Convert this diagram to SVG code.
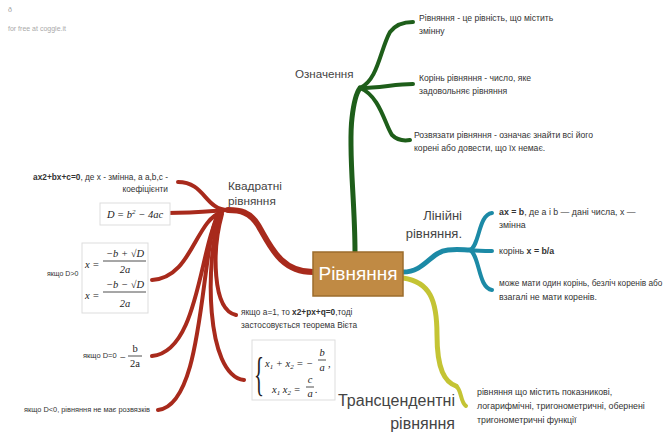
<svg xmlns="http://www.w3.org/2000/svg" width="666" height="444" viewBox="0 0 666 444">
<style>
.t{font-family:"Liberation Sans",Arial,sans-serif;fill:#333;font-size:8.6px}
.tb{font-size:8.8px}
.tr{font-size:8.3px}
.b{font-weight:bold}
.lbl{font-family:"Liberation Sans",Arial,sans-serif;fill:#444}
.m{font-family:"Liberation Serif","Times New Roman",serif;font-style:italic;fill:#222;font-size:10.5px}
.mn{font-family:"Liberation Serif","Times New Roman",serif;fill:#222;font-size:10.5px}
.box{fill:#fff;stroke:#ddd;stroke-width:1}
.red{fill:none;stroke:#a82a1c;stroke-linecap:round}
.grn{fill:none;stroke:#1e5e1a;stroke-linecap:round}
.blu{fill:none;stroke:#1c8aa6;stroke-linecap:round}
.yel{fill:none;stroke:#c4c434;stroke-linecap:round}
.bar{stroke:#222;stroke-width:0.8}
</style>
<rect width="666" height="444" fill="#fff"/>
<text x="8" y="12" class="t" style="fill:#999;font-size:7px">ð</text>
<text x="8" y="31" class="t" style="fill:#aaa;font-size:7px">for free at coggle.it</text>

<g id="connectors">
  <!-- green -->
  <path class="grn" stroke-width="5" d="M355,252 C355,200 348,150 352,118 C354,100 357,92 360,88"/>
  <path class="grn" stroke-width="4" d="M360,88 C378,80 380,50 390,32 C396,24 404,22 413,22"/>
  <path class="grn" stroke-width="4" d="M360,88 C380,88 395,84 413,84"/>
  <path class="grn" stroke-width="4" d="M360,88 C380,96 385,125 392,135 C398,141 404,141 410,140"/>
  <!-- red -->
  <path class="red" stroke-width="6" d="M313,272 C280,272 270,245 258,225 C250,212 240,210 228,210"/>
  <path class="red" stroke-width="4" d="M228,210 C205,210 205,182 178,182"/>
  <path class="red" stroke-width="4" d="M228,210 C200,212 190,213 168,213"/>
  <path class="red" stroke-width="4" d="M222,212 C195,220 192,278 152,280"/>
  <path class="red" stroke-width="4" d="M220,214 C200,240 200,352 152,356"/>
  <path class="red" stroke-width="4" d="M218,214 C200,250 205,405 158,410"/>
  <path class="red" stroke-width="4" d="M222,214 C212,250 212,310 236,315"/>
  <path class="red" stroke-width="4" d="M220,214 C205,260 205,375 244,380"/>
  <!-- blue -->
  <path class="blu" stroke-width="5" d="M403,272 C425,272 430,252 448,250 C458,249 464,250 470,250"/>
  <path class="blu" stroke-width="4" d="M470,250 C480,245 478,215 492,213"/>
  <path class="blu" stroke-width="4" d="M470,250 C478,251 485,251 492,251"/>
  <path class="blu" stroke-width="4" d="M470,250 C480,256 478,288 492,290"/>
  <!-- yellow -->
  <path class="yel" stroke-width="5" d="M403,278 C430,282 437,300 437,335 C437,370 445,382 456,386"/>
  <path class="yel" stroke-width="4" d="M456,386 C462,390 460,402 466,406"/>
</g>

<g id="center">
  <rect x="313" y="252" width="90" height="44" fill="#c08a44" stroke="#9c6c2c" stroke-width="1.5"/>
  <text x="358" y="280" text-anchor="middle" style="font-family:'Liberation Sans',Arial,sans-serif;font-size:19px;fill:#fff">Рівняння</text>
</g>

<g id="oznachennya">
  <text x="295" y="78" class="lbl" style="font-size:11.6px">Означення</text>
</g>
<g id="def1">
  <text x="419" y="21" class="t">Рівняння - це рівність, що містить</text>
  <text x="419" y="34" class="t">змінну</text>
</g>
<g id="def2">
  <text x="419" y="81" class="t">Корінь рівняння - число, яке</text>
  <text x="419" y="94" class="t">задовольняє рівняння</text>
</g>
<g id="def3">
  <text x="414" y="138" class="t">Розвязати рівняння - означає знайти всі його</text>
  <text x="414" y="151" class="t">корені або довести, що їх немає.</text>
</g>

<g id="kvadratni">
  <text x="228" y="190" class="lbl" style="font-size:11.8px">Квадратні</text>
  <text x="228" y="205" class="lbl" style="font-size:11.8px">рівняння</text>
</g>
<g id="q1">
  <text x="168" y="180" text-anchor="end" class="t tr"><tspan class="b">ax2+bx+c=0</tspan>, де х - змінна, а a,b,c -</text>
  <text x="168" y="192" text-anchor="end" class="t tr">коефіцієнти</text>
</g>
<g id="q2">
  <rect x="100" y="203" width="70" height="22" class="box"/>
  <text x="135" y="218" text-anchor="middle" class="m">D = b<tspan dy="-4" style="font-size:7px">2</tspan><tspan dy="4"> − 4ac</tspan></text>
</g>
<g id="q3">
  <text x="47" y="276" class="t" style="font-size:7px">якщо D&gt;0</text>
  <rect x="82" y="243" width="66" height="70" class="box"/>
  <text x="85" y="268" class="m">x =</text>
  <text x="125" y="257" text-anchor="middle" class="m">−b + √D</text>
  <line x1="103" y1="261" x2="146" y2="261" class="bar"/>
  <text x="125" y="273" text-anchor="middle" class="m">2a</text>
  <text x="85" y="299" class="m">x =</text>
  <text x="125" y="288" text-anchor="middle" class="m">−b − √D</text>
  <line x1="103" y1="292" x2="146" y2="292" class="bar"/>
  <text x="125" y="307" text-anchor="middle" class="m">2a</text>
</g>
<g id="q4">
  <text x="83" y="358" class="t" style="font-size:7.5px">якщо D=0</text>
  <text x="120" y="361" class="mn">−</text>
  <text x="135" y="352" text-anchor="middle" class="mn">b</text>
  <line x1="128" y1="356" x2="142" y2="356" class="bar"/>
  <text x="135" y="367" text-anchor="middle" class="mn">2a</text>
</g>
<g id="q5">
  <text x="24" y="412" class="t" style="font-size:7px" textLength="126" lengthAdjust="spacingAndGlyphs">якщо D&lt;0, рівняння не має розвязків</text>
</g>
<g id="q6">
  <text x="241" y="315" class="t tr">якщо а=1, то <tspan class="b">x2+px+q=0</tspan>,тоді</text>
  <text x="241" y="328" class="t tr">застосовується теорема Вієта</text>
</g>
<g id="q7">
  <rect x="252" y="340" width="83" height="60" class="box"/>
  <text transform="translate(254,390) scale(0.45,1)" class="mn" style="font-size:46px">{</text>
  <text x="265" y="367" class="m">x<tspan dy="2" style="font-size:7px">1</tspan><tspan dy="-2"> + x</tspan><tspan dy="2" style="font-size:7px">2</tspan><tspan dy="-2"> = −</tspan></text>
  <text x="322" y="356" text-anchor="middle" class="m">b</text>
  <line x1="318" y1="360" x2="326" y2="360" class="bar"/>
  <text x="322" y="371" text-anchor="middle" class="m">a</text>
  <text x="328" y="367" class="m">,</text>
  <text x="272" y="393" class="m">x<tspan dy="2" style="font-size:7px">1</tspan><tspan dy="-2"> x</tspan><tspan dy="2" style="font-size:7px">2</tspan><tspan dy="-2"> =</tspan></text>
  <text x="310" y="383" text-anchor="middle" class="m">c</text>
  <line x1="306" y1="387" x2="314" y2="387" class="bar"/>
  <text x="310" y="397" text-anchor="middle" class="m">a</text>
  <text x="315" y="393" class="m">.</text>
</g>

<g id="liniyni">
  <text x="462" y="220" text-anchor="end" class="lbl" style="font-size:13px">Лінійні</text>
  <text x="462" y="238" text-anchor="end" class="lbl" style="font-size:13px">рівняння.</text>
</g>
<g id="l1">
  <text x="499" y="215" class="t tb"><tspan class="b">ax = b</tspan>, де а і b — дані числа, х —</text>
  <text x="499" y="228" class="t tb">змінна</text>
</g>
<g id="l2">
  <text x="499" y="254" class="t tb">корінь <tspan class="b">x = b/a</tspan></text>
</g>
<g id="l3">
  <text x="499" y="286" class="t" style="font-size:8.3px">може мати один корінь, безліч коренів або</text>
  <text x="499" y="300" class="t tb">взагалі не мати коренів.</text>
</g>

<g id="transcendentni">
  <text x="455" y="406" text-anchor="end" class="lbl" style="font-size:16px">Трансцендентні</text>
  <text x="455" y="429" text-anchor="end" class="lbl" style="font-size:16px">рівняння</text>
</g>
<g id="t1">
  <text x="477" y="395" class="t tb">рівняння що містить показникові,</text>
  <text x="477" y="409" class="t tb">логарифмічні, тригонометричні, обернені</text>
  <text x="477" y="423" class="t tb">тригонометричні функції</text>
</g>
</svg>
